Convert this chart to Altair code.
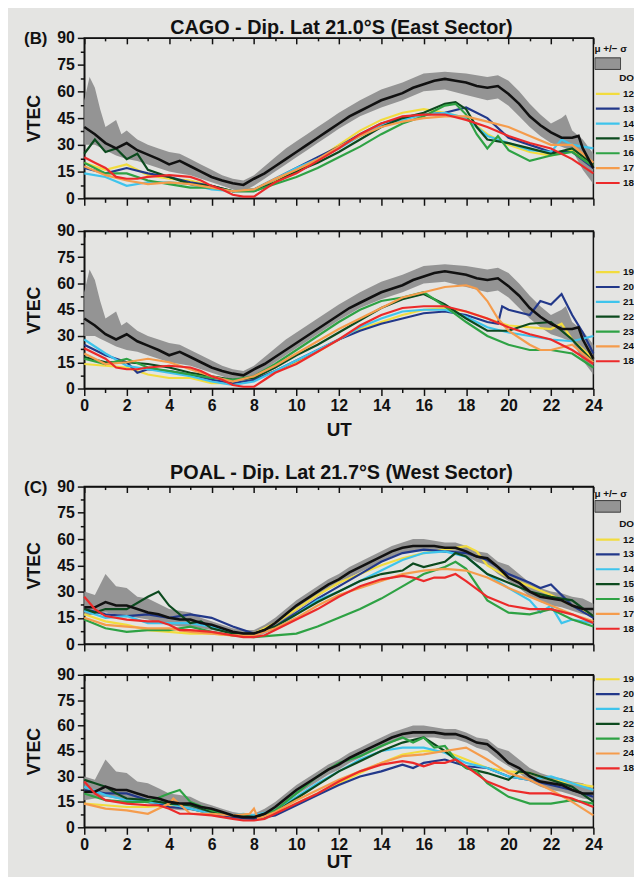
import altair as alt
import pandas as pd

FONT = "Liberation Sans"
BG = "#e4e4e2"

# ---------------- CAGO (East) ----------------
CAGO_MEAN = [(0,40),(0.5,36),(1,31),(1.5,28),(2,31),(2.5,27),(3,24.5),(3.5,22),(4,19),(4.5,21),(5,18),(5.5,15),(6,12),(6.5,10),(7,8.5),(7.5,7.5),(8,11),(8.5,14),(9,18),(9.5,22),(10,26),(10.5,30),(11,34),(11.5,38),(12,42),(12.5,46),(13,49),(13.5,52),(14,55),(14.5,57),(15,59),(15.5,62),(16,64),(16.5,66),(17,67),(17.5,66),(18,65),(18.5,63),(19,62),(19.5,63),(20,58.5),(20.5,53),(21,46),(21.5,41),(22,37),(22.5,34),(23,34),(23.3,35),(23.5,28),(24,17)]
CAGO_UPPER = [(0,55),(0.25,68),(0.5,62),(0.75,50),(1,40),(1.5,44),(1.75,36),(2,38),(2.5,33),(3,30),(3.5,28),(4,26),(4.5,25),(5,22),(5.5,19),(6,16),(6.5,13),(7,11),(7.5,10),(8,13),(8.5,18),(9,23),(9.5,28),(10,32),(10.5,36),(11,40),(11.5,44),(12,48),(13,55),(14,61),(15,65),(16,70),(17,71),(18,70),(19,68),(19.5,69),(20,66),(20.5,60),(21,53),(21.5,47),(22,42),(22.5,45),(22.7,47),(23,38),(23.5,33),(24,25)]
CAGO_LOWER = [(0,30),(0.5,30),(1,27),(1.5,24),(2,22),(2.5,21),(3,19),(3.5,17),(4,15),(4.5,14),(5,13),(5.5,11),(6,9),(6.5,7),(7,5),(7.5,4),(8,7),(8.5,11),(9,15),(9.5,19),(10,23),(10.5,27),(11,31),(11.5,35),(12,39),(13,46),(14,51),(15,55),(16,60),(17,61),(18,58),(19,55),(19.5,56),(20,52),(20.5,46),(21,40),(21.5,35),(22,31),(22.5,29),(23,27),(23.5,16),(24,8)]

CAGO_RED_18 = [(0,23),(0.5,20),(1,17),(1.5,12),(2,11),(2.5,11),(3,12),(4,13),(5,12),(5.5,10),(6,7),(6.5,5),(7,2),(7.5,1),(8,1),(8.5,5),(9,9),(10,14),(11,21),(12,28),(13,36),(14,42),(15,46),(16,47),(17,47),(18,44),(19,40),(20,35),(21,31),(22,28),(23,22),(24,14)]

CAGO_TOP = {
    "12": [(0,20),(1,16),(2,19),(3,13),(4,11),(5,10),(6,7),(7,4),(8,5),(9,10),(10,15),(11,22),(12,30),(13,38),(14,44),(15,48),(16,50),(17,48),(18,45),(19,36),(20,30),(21,26),(22,24),(23,27),(24,19)],
    "13": [(0,17),(1,14),(2,17),(3,14),(4,12),(5,9),(6,7),(7,4),(8,5),(9,11),(10,17),(11,23),(12,29),(13,36),(14,42),(15,45),(16,47),(17,48),(18,51),(19,45),(20,34),(21,30),(22,26),(23,26),(24,17)],
    "14": [(0,14),(1,12),(2,7),(3,9),(4,9),(5,8),(6,5),(7,4),(8,5),(9,11),(10,17),(11,22),(12,28),(13,35),(14,41),(15,44),(16,47),(17,48),(18,45),(19,35),(20,31),(21,27),(22,26),(22.5,33),(23,30),(24,28)],
    "15": [(0,25),(0.5,33),(1,26),(1.5,28),(2,22),(2.5,25),(3,16),(4,12),(5,8),(6,7),(7,4),(8,4),(9,9),(10,15),(11,20),(12,26),(13,33),(14,40),(15,45),(16,48),(17,53),(17.5,54),(18,50),(18.5,40),(19,33),(20,31),(21,28),(22,25),(23,28),(24,19)],
    "16": [(0,20),(1,14),(2,14),(3,10),(4,8),(5,6),(6,6),(7,4),(8,4),(9,8),(10,12),(11,17),(12,23),(13,29),(14,36),(15,42),(16,46),(17,52),(17.5,53),(18,47),(18.5,36),(19,28),(19.5,35),(20,27),(21,21),(22,24),(23,26),(24,18)],
    "17": [(0,18),(1,13),(2,10),(3,8),(4,9),(5,8),(6,6),(7,4),(8,5),(9,11),(10,16),(11,22),(12,29),(13,35),(14,40),(15,43),(16,45),(17,46),(18,46),(19,43),(20,40),(21,35),(22,30),(23,30),(24,20)],
}
CAGO_BOTTOM = {
    "19": [(0,14),(1,13),(2,12),(3,8),(4,6),(5,6),(6,3),(7,3),(8,5),(9,10),(10,15),(11,21),(12,28),(13,34),(14,38),(15,42),(16,45),(17,46),(18,44),(19,40),(20,36),(21,35),(22,34),(22.5,37),(23,28),(24,17)],
    "20": [(0,25),(1,19),(2,15),(2.5,9),(3,11),(4,10),(5,8),(6,5),(7,3),(8,5),(9,10),(10,16),(11,22),(12,28),(13,33),(14,37),(15,40),(16,43),(17,44),(18,42),(19,38),(19.5,37),(19.7,47),(20,45),(21,42),(21.5,50),(22,48),(22.5,54),(23,42),(23.5,32),(24,20)],
    "21": [(0,28),(1,20),(2,13),(3,11),(4,9),(5,7),(6,4),(7,2),(8,4),(9,10),(10,16),(11,22),(12,28),(13,35),(14,40),(15,44),(16,45),(17,45),(18,41),(19,35),(20,32),(21,30),(22,28),(23,27),(24,30)],
    "22": [(0,18),(1,15),(2,15),(3,14),(4,12),(5,9),(6,7),(7,5),(8,6),(9,12),(10,19),(11,25),(12,32),(13,39),(14,46),(15,51),(16,54),(17,48),(18,40),(19,33),(20,33),(21,37),(22,38),(23,28),(24,15)],
    "23": [(0,17),(1,14),(2,17),(3,12),(4,10),(5,8),(6,6),(7,5),(8,7),(9,14),(10,22),(11,30),(12,38),(13,45),(14,50),(15,52),(16,55),(17,47),(18,38),(19,30),(20,25),(21,22),(22,22),(23,20),(24,12)],
    "24": [(0,20),(1,14),(2,15),(3,17),(4,15),(5,11),(6,7),(7,4),(8,7),(9,13),(10,20),(11,27),(12,34),(13,40),(14,46),(15,52),(16,55),(17,58),(18,59),(18.5,57),(19,50),(19.5,40),(20,33),(21,25),(21.5,22),(22,22),(23,25),(24,15)],
}

# ---------------- POAL (West) ----------------
POAL_MEAN = [(0,21),(0.5,21),(1,24),(1.5,22),(2,22),(2.5,20),(3,18),(3.5,17),(4,15),(4.5,14),(5,14),(5.5,12),(6,11),(6.5,9),(7,7),(7.5,6),(8,6),(8.5,8),(9,12),(9.5,17),(10,22),(10.5,26),(11,30),(11.5,34),(12,37),(12.5,41),(13,44),(13.5,47),(14,50),(14.5,53),(15,55),(15.5,56),(16,56),(16.5,56),(17,55),(17.5,55),(18,53),(18.5,50),(19,49),(19.5,44),(20,38),(20.5,35),(21,30),(21.5,27),(22,26),(22.5,25),(23,22),(23.5,20),(24,20)]
POAL_UPPER = [(0,30),(0.5,28),(1,40),(1.5,33),(2,32),(2.5,27),(3,26),(3.5,23),(4,20),(4.5,19),(5,18),(5.5,15),(6,13),(6.5,11),(7,9),(7.5,8),(8,8),(8.5,11),(9,15),(9.5,20),(10,25),(10.5,29),(11,33),(11.5,37),(12,40),(12.5,44),(13,47),(13.5,50),(14,53),(14.5,56),(15,58),(15.5,60),(16,60),(16.5,59),(17,58),(17.5,58),(18,56),(18.5,53),(19,52),(19.5,47),(20,45),(20.5,40),(21,35),(21.5,32),(22,30),(22.5,29),(23,27),(23.5,26),(24,23)]
POAL_LOWER = [(0,16),(0.5,17),(1,18),(1.5,17),(2,16),(2.5,15),(3,14),(3.5,12),(4,11),(4.5,10),(5,10),(5.5,9),(6,8),(6.5,7),(7,5),(7.5,4),(8,4),(8.5,6),(9,9),(9.5,14),(10,19),(10.5,23),(11,27),(11.5,31),(12,34),(12.5,38),(13,41),(13.5,44),(14,47),(14.5,50),(15,52),(15.5,53),(16,53),(16.5,53),(17,52),(17.5,52),(18,50),(18.5,47),(19,45),(19.5,40),(20,36),(20.5,32),(21,27),(21.5,24),(22,22),(22.5,21),(23,19),(23.5,17),(24,16)]

POAL_RED_18 = [(0,27),(0.5,20),(1,16),(2,14),(3,13),(3.5,13),(4,11),(4.5,8),(5,8),(6,7),(7,5),(7.5,4),(8,4),(8.5,5),(9,8),(10,14),(11,20),(12,27),(13,33),(14,37),(15,39),(15.5,38),(16,36),(16.5,38),(17,38),(17.5,40),(18,36),(19,27),(20,22),(21,20),(22,20),(23,17),(24,12)]

POAL_TOP = {
    "12": [(0,17),(1,13),(2,11),(3,8),(4,7),(5,6),(6,6),(7,5),(8,6),(9,12),(10,20),(11,28),(12,35),(13,40),(14,45),(15,49),(16,52),(17,54),(18,56),(18.5,53),(19,45),(20,38),(21,33),(22,28),(23,22),(24,16)],
    "13": [(0,20),(1,17),(2,16),(3,17),(4,15),(5,17),(6,15),(7,10),(8,6),(9,10),(10,18),(11,26),(12,33),(13,40),(14,47),(15,52),(16,54),(17,53),(18,52),(19,48),(20,40),(21,35),(21.5,32),(22,34),(23,22),(24,15)],
    "14": [(0,19),(1,15),(2,16),(3,12),(4,12),(5,12),(6,10),(7,6),(8,5),(9,9),(10,17),(11,25),(12,30),(13,36),(14,42),(15,48),(16,52),(17,53),(18,50),(19,40),(20,32),(21,25),(21.5,18),(22,22),(22.5,12),(23,14),(24,12)],
    "15": [(0,20),(0.5,18),(1,20),(2,20),(3,27),(3.5,30),(4,22),(5,12),(5.5,13),(6,9),(7,6),(8,6),(9,10),(10,17),(11,24),(12,30),(13,36),(14,40),(15,42),(15.5,46),(16,44),(17,47),(17.5,52),(18,50),(19,40),(20,35),(21,30),(22,27),(23,25),(24,16)],
    "16": [(0,14),(1,9),(2,7),(3,8),(4,8),(5,10),(6,7),(7,5),(8,4),(9,5),(10,6),(11,10),(12,15),(13,20),(14,26),(15,33),(16,40),(17,44),(17.5,47),(18,43),(19,25),(20,18),(21,17),(22,20),(23,14),(24,10)],
    "17": [(0,15),(1,11),(2,10),(3,9),(4,9),(5,7),(6,6),(7,5),(8,5),(9,9),(10,15),(11,22),(12,28),(13,32),(14,36),(15,40),(16,42),(17,43),(18,42),(19,38),(20,32),(21,27),(22,22),(23,17),(24,13)],
}
POAL_BOTTOM = {
    "19": [(0,14),(1,13),(2,12),(3,12),(4,13),(5,11),(6,8),(7,6),(8,6),(9,8),(10,14),(11,20),(12,26),(13,32),(14,38),(15,43),(16,45),(17,45),(18,40),(19,35),(20,33),(21,32),(22,28),(23,26),(24,24)],
    "20": [(0,22),(1,20),(2,20),(3,16),(4,12),(5,11),(6,8),(7,6),(8,5),(9,7),(10,13),(11,19),(12,25),(13,30),(14,33),(15,37),(15.5,35),(16,38),(17,40),(18,36),(19,35),(20,30),(21,28),(22,25),(23,22),(24,18)],
    "21": [(0,24),(1,19),(2,16),(3,15),(4,14),(5,11),(6,8),(7,7),(7.5,8),(8,7),(9,10),(10,18),(11,26),(12,33),(13,40),(14,45),(15,47),(16,47),(17,44),(18,38),(19,35),(20,30),(21,28),(22,30),(23,26),(24,22)],
    "22": [(0,28),(0.5,26),(1,24),(1.5,20),(2,17),(3,16),(4,14),(5,13),(6,9),(7,7),(8,6),(9,9),(10,17),(11,25),(12,33),(13,39),(14,45),(15,50),(16,53),(17,45),(17.5,40),(18,35),(19,32),(20,28),(20.5,33),(21,32),(22,28),(23,24),(24,15)],
    "23": [(0,20),(1,16),(2,15),(3,15),(4,20),(4.5,22),(5,15),(6,10),(7,7),(8,6),(9,10),(10,20),(11,30),(12,38),(13,42),(14,48),(15,53),(15.5,50),(16,53),(16.5,47),(17,48),(17.5,40),(18,35),(18.5,33),(19,26),(19.5,22),(20,18),(21,14),(22,14),(23,16),(24,14)],
    "24": [(0,14),(1,11),(2,10),(3,8),(4,14),(4.2,17),(5,8),(6,8),(7,7),(7.8,8),(8,11),(8.2,5),(9,9),(10,16),(11,22),(12,28),(13,33),(14,38),(15,42),(16,43),(17,45),(18,47),(19,40),(20,32),(21,28),(22,22),(23,15),(24,7)],
}

TOP_LABELS = ["12", "13", "14", "15", "16", "17", "18"]
BOTTOM_LABELS = ["19", "20", "21", "22", "23", "24", "18"]
LINE_COLORS = ["#f2dc3e", "#22388a", "#3ec4ec", "#0c4a1e", "#2ea244", "#f59c4c", "#ec2a2a"]
LINE_WIDTHS = [2.2, 2.2, 2.2, 2.2, 2.2, 2.2, 4.8]

TITLE_EAST = "CAGO - Dip. Lat 21.0°S (East Sector)"
TITLE_WEST = "POAL - Dip. Lat 21.7°S (West Sector)"

W = 514
X_VALUES = list(range(0, 25))
Y_VALUES = [i * 7.5 for i in range(13)]


def pairs_df(pairs, col="vtec"):
    return pd.DataFrame({"ut": [p[0] for p in pairs], col: [p[1] for p in pairs]})


def lines_df(series, labels):
    rows = []
    for lab in labels:
        for ut, v in series[lab]:
            rows.append({"ut": ut, "vtec": v, "doy": lab})
    return pd.DataFrame(rows)


def panel(mean, upper, lower, series, red, labels, height, bottom_labels, tag,
          band_legend, color_legend_y, ut_pad=3):
    xscale = alt.Scale(domain=[0, 24], nice=False, zero=False)
    yscale = alt.Scale(domain=[0, 90], nice=False)
    yaxis = alt.Axis(
        values=Y_VALUES, labelExpr="datum.value % 15 == 0 ? datum.label : ''",
        tickSize={"condition": {"test": "datum.value % 15 == 0", "value": 7}, "value": 4},
        title="VTEC", titleFontSize=18, titlePadding=13, labelPadding=3,
        grid=False, labelFlush=False,
    )
    top_axis = alt.Axis(orient="top", values=X_VALUES, labels=False, title=None,
                        tickSize={"condition": {"test": "datum.value % 2 == 0", "value": -6}, "value": -3},
                        grid=False, minExtent=0, maxExtent=0)
    bottom_axis = alt.Axis(
        orient="bottom", values=X_VALUES, grid=False,
        labels=bottom_labels, labelFlush=False,
        labelExpr="datum.value % 2 == 0 ? datum.label : ''",
        tickSize={"condition": {"test": "datum.value % 2 == 0", "value": 7}, "value": 4},
        title="UT" if bottom_labels else None, titleFontSize=19, titlePadding=ut_pad,
        labelPadding=2,
    )

    band_df = pairs_df(upper, "hi").merge(pairs_df(lower, "lo"), on="ut", how="outer").sort_values("ut")
    band_df["hi"] = band_df["hi"].interpolate()
    band_df["lo"] = band_df["lo"].interpolate()
    band_df["key"] = "band"

    if band_legend is not None:
        b_y, b_pad = band_legend
        band_leg = alt.Legend(
            title="\u03bc +/\u2212 \u03c3", orient="none", legendX=W + 1, legendY=b_y,
            labelExpr="''", symbolType="M-1,-0.45L1,-0.45L1,0.45L-1,0.45Z", symbolSize=676,
            symbolStrokeColor="#3a3a3a", symbolStrokeWidth=1, clipHeight=14,
            titleFontSize=10, titlePadding=b_pad, padding=0, labelFontSize=1, labelOffset=0,
        )
    else:
        band_leg = None

    band = alt.Chart(band_df).mark_area(opacity=1, interpolate="linear").encode(
        x=alt.X("ut:Q", scale=xscale, axis=top_axis),
        y=alt.Y("lo:Q", scale=yscale, axis=yaxis),
        y2="hi:Q",
        fill=alt.Fill("key:N", scale=alt.Scale(domain=["band"], range=["#949494"]), legend=band_leg),
    )

    cscale = alt.Scale(domain=labels, range=LINE_COLORS)
    wscale = alt.Scale(domain=labels, range=LINE_WIDTHS)
    color_legend = alt.Legend(
        title="DO" if color_legend_y[1] else None, orient="none", legendX=W + 1,
        legendY=color_legend_y[0], symbolType="stroke", symbolSize=576, clipHeight=15,
        labelFontSize=10, labelOffset=2, titleFontSize=10, titlePadding=3, padding=0,
        titleAnchor="end", rowPadding=0,
    )
    thin_labels = labels[:-1]
    thin = alt.Chart(lines_df(series, thin_labels)).mark_line(interpolate="linear").encode(
        x=alt.X("ut:Q", scale=xscale, axis=bottom_axis),
        y=alt.Y("vtec:Q", scale=yscale, axis=yaxis),
        color=alt.Color("doy:N", scale=cscale, legend=color_legend),
        strokeWidth=alt.StrokeWidth("doy:N", scale=wscale, legend=color_legend),
        detail="doy:N",
    )
    black = alt.Chart(pairs_df(mean)).mark_line(color="#111111", strokeWidth=2.6).encode(
        x=alt.X("ut:Q", scale=xscale, axis=None),
        y=alt.Y("vtec:Q", scale=yscale, axis=yaxis),
    )
    red_df = pairs_df(red)
    red_df["doy"] = labels[-1]
    redl = alt.Chart(red_df).mark_line().encode(
        x=alt.X("ut:Q", scale=xscale, axis=None),
        y=alt.Y("vtec:Q", scale=yscale, axis=yaxis),
        color=alt.Color("doy:N", scale=cscale, legend=color_legend),
        strokeWidth=alt.StrokeWidth("doy:N", scale=wscale, legend=color_legend),
    )
    props = dict(width=W, height=height)
    if tag:
        props["title"] = alt.TitleParams(tag, anchor="start", frame="bounds", orient="top",
                                         offset=-18, fontSize=17, dx=-2)
    return alt.layer(band, thin, black, redl).resolve_axis(x="independent").properties(**props)


p1 = panel(CAGO_MEAN, CAGO_UPPER, CAGO_LOWER, CAGO_TOP, CAGO_RED_18, TOP_LABELS, 162, False, "(B)", (6, 3), (36, True))
p2 = panel(CAGO_MEAN, CAGO_UPPER, CAGO_LOWER, CAGO_BOTTOM, CAGO_RED_18, BOTTOM_LABELS, 159, True, None, None, (34, False), ut_pad=7)
p3 = panel(POAL_MEAN, POAL_UPPER, POAL_LOWER, POAL_TOP, POAL_RED_18, TOP_LABELS, 159, False, "(C)", (3, 0), (33, True))
p4 = panel(POAL_MEAN, POAL_UPPER, POAL_LOWER, POAL_BOTTOM, POAL_RED_18, BOTTOM_LABELS, 154, True, None, None, (-3, False), ut_pad=1)

res = dict(color="independent", strokeWidth="independent", fill="independent")

east = alt.vconcat(p1, p2, spacing=15, title=alt.TitleParams(TITLE_EAST, fontSize=20, anchor="middle", offset=-9, dx=12)).resolve_scale(**res)
west = alt.vconcat(p3, p4, spacing=13, title=alt.TitleParams(TITLE_WEST, fontSize=20, anchor="middle", offset=-5, dx=12)).resolve_scale(**res)

chart = alt.vconcat(east, west, spacing=23).resolve_scale(**res).properties(
    background=BG, padding={"left": 15, "top": 6, "right": -2, "bottom": 0}
).configure(font=FONT).configure_view(
    stroke="#111111", strokeWidth=1.5
).configure_axis(
    domainColor="#111111", domainWidth=1.5, tickColor="#111111", tickWidth=1.5,
    labelFont=FONT, labelFontWeight="bold", labelFontSize=16, labelColor="#111111",
    titleFont=FONT, titleFontWeight="bold", titleColor="#111111",
).configure_legend(
    labelFont=FONT, labelFontWeight="bold", labelColor="#111111",
    titleFont=FONT, titleFontWeight="bold", titleColor="#111111",
).configure_title(
    font=FONT, fontWeight="bold", color="#111111",
)

chart.save("out.html", embed_options={"renderer": "svg", "actions": False})
